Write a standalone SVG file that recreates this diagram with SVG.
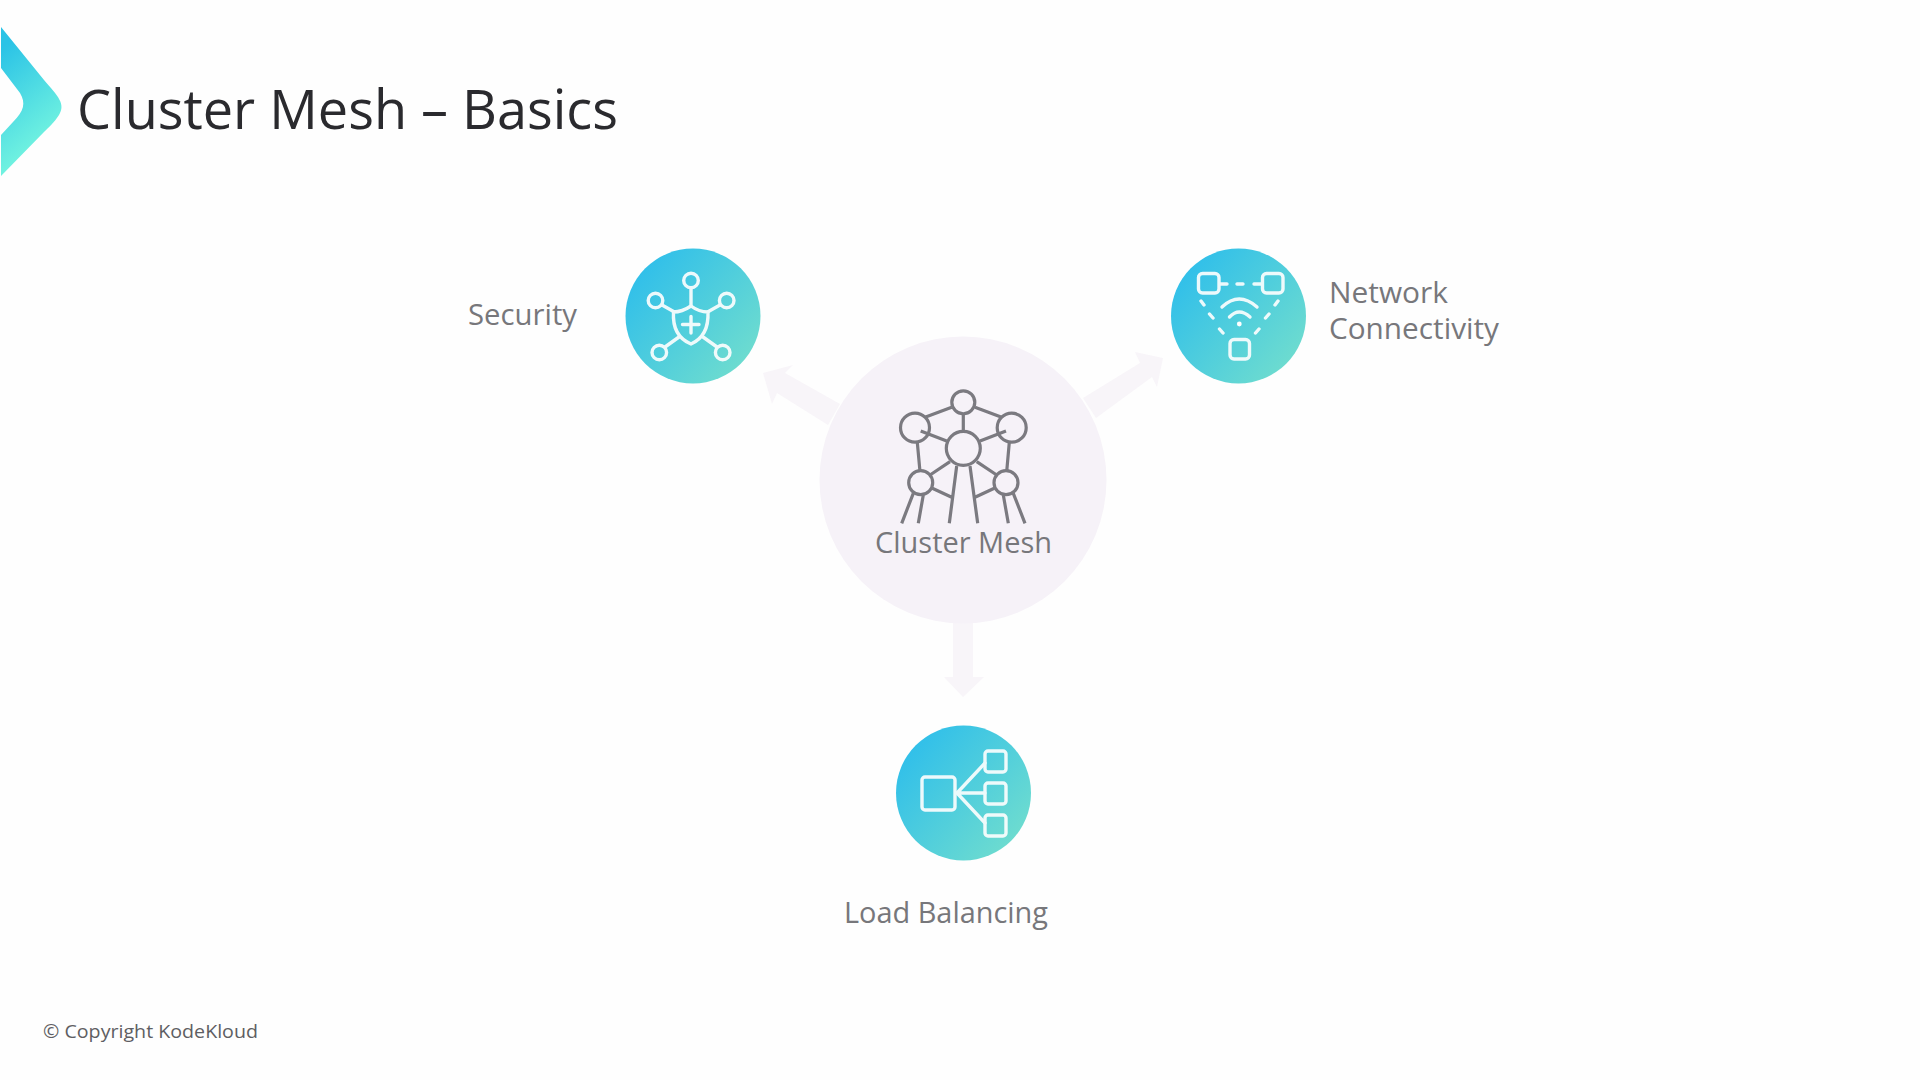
<svg xmlns="http://www.w3.org/2000/svg" width="1920" height="1080" viewBox="0 0 1920 1080">
<style>
.t{font-family:"Open Sans","Noto Sans","Liberation Sans",sans-serif;fill:#77777b;font-size:29px}
.title{font-family:"Open Sans","Noto Sans","Liberation Sans",sans-serif;fill:#2a2a2e;font-size:55px;font-weight:400}
.w{fill:none;stroke:#fff;stroke-width:3.4;stroke-linecap:round;stroke-linejoin:round;opacity:.9}
.g{fill:none;stroke:#7b7a80;stroke-width:3.2;stroke-linecap:butt}
.a{fill:#f8f5f9}
</style>
<defs>
<linearGradient id="grad" x1="0.1" y1="0.15" x2="0.9" y2="0.85"><stop offset="0" stop-color="#30bfea"/><stop offset="1" stop-color="#6edccf"/></linearGradient>
<linearGradient id="chev" gradientUnits="userSpaceOnUse" x1="0" y1="50" x2="62" y2="125"><stop offset="0" stop-color="#2bc3e6"/><stop offset="1" stop-color="#70f2e0"/></linearGradient>
</defs>
<rect width="1920" height="1080" fill="#fefefe"/>
<g id="logo"><path d="M1 27 L44 80 C58 96 66 104 59 115 C54 123 48 128 44 132 L1 176 L1 135 L13 122 C24 111 26 103 20 93 L1 68 Z" fill="url(#chev)"/></g>
<text class="title" x="77" y="129" textLength="541" lengthAdjust="spacingAndGlyphs">Cluster Mesh – Basics</text>
<g id="connectors">
<polygon class="a" points="763,373 793,365 785,373 840,404 828,425 777,393 772,404"/>
<polygon class="a" points="1163,358 1157,387 1152,377 1096,418 1083,398 1140,363 1135,352"/>
<polygon class="a" points="953,620 973,620 973,677 984,677 963,697 944,677 953,677"/>
</g>
<g id="cluster-mesh">
<circle cx="963" cy="480" r="143.500" fill="#f6f2f8"/>
<g class="g">
<circle cx="963.300" cy="402.300" r="11.500"/><circle cx="915" cy="427.700" r="14.500"/><circle cx="1011.700" cy="427.700" r="14.500"/>
<circle cx="963.300" cy="448.300" r="17"/><circle cx="920.700" cy="482.700" r="12"/><circle cx="1006" cy="482.700" r="12"/>
<path d="M925 417.300L951.700 407.300M1001.700 417.300L975 407.300M963.300 413.300V431.700M920.700 431 946.700 441M1006 431 980 441M917.300 442.300 920 471.700M1009.300 442.300 1006.700 471.700M950 461.700 930 475M976.700 461.700 996.700 475M956.700 466 949.300 523.300M970 466 977.700 523.300M932.300 488.300 951.700 497.300M994.300 488.300 975 497.300M913.300 493.300 901.700 523.300M923.300 495 918.300 523.300M1013.300 493.300 1025 523.300M1003.300 495 1008.300 523.300"/>
</g>
<text class="t" x="875" y="552.500" textLength="177" lengthAdjust="spacingAndGlyphs">Cluster Mesh</text>
</g>
<g id="security">
<circle cx="693" cy="316" r="67.500" fill="url(#grad)"/>
<g class="w">
<circle cx="691" cy="280.500" r="7.300"/><circle cx="655.500" cy="300.500" r="7.300"/><circle cx="726.700" cy="300.500" r="7.300"/><circle cx="659.300" cy="352.500" r="7.300"/><circle cx="722.700" cy="352.500" r="7.300"/>
<path d="M691 288V306M662 305 674 311.700M720 305 708 311.700M665 347 679 337M717 347 703 337"/>
<path d="M691 306Q682 312 673.500 312Q672 336 691 344Q709 336 708 312Q699 312 691 306Z"/>
<path d="M691 316.500V333M682.500 324.500H699"/>
</g>
<text class="t" x="468" y="325" textLength="109" lengthAdjust="spacingAndGlyphs">Security</text>
</g>
<g id="network-connectivity">
<circle cx="1238.500" cy="316" r="67.500" fill="url(#grad)"/>
<g class="w">
<rect x="1198.500" y="273.500" width="20.500" height="19.500" rx="4"/><rect x="1262.500" y="273.500" width="20.500" height="19.500" rx="4"/><rect x="1230" y="339.500" width="19.500" height="19.500" rx="4"/>
<path d="M1220 284H1227M1237 284H1243M1254 284H1262M1201 301 1204 305M1209.500 314 1213 318M1219.500 329 1223 333M1278 301 1275 305M1269 314 1265.500 318M1259 329 1255.500 333"/>
<path d="M1222 307Q1239 291 1257 307M1229.500 317Q1239 307 1250 317"/>
</g>
<circle cx="1239.300" cy="324" r="2.400" fill="#fff"/>
<text class="t"><tspan x="1329" y="303" textLength="119" lengthAdjust="spacingAndGlyphs">Network</tspan><tspan x="1329" y="339" textLength="170" lengthAdjust="spacingAndGlyphs">Connectivity</tspan></text>
</g>
<g id="load-balancing">
<circle cx="963.500" cy="793" r="67.500" fill="url(#grad)"/>
<g class="w">
<rect x="922" y="777" width="33" height="33" rx="3"/><rect x="985" y="751" width="21" height="21" rx="3"/><rect x="985" y="783" width="21" height="21" rx="3"/><rect x="985" y="815" width="21" height="21" rx="3"/>
<path d="M957 793 985 763M957 793H985M957 793 985 823"/>
</g>
<text class="t" x="844" y="923" textLength="204" lengthAdjust="spacingAndGlyphs">Load Balancing</text>
</g>
<text x="43" y="1038" textLength="215" lengthAdjust="spacingAndGlyphs" style="font-family:'Open Sans','Noto Sans',sans-serif;font-size:19px;fill:#5e5e63">© Copyright KodeKloud</text>
</svg>
